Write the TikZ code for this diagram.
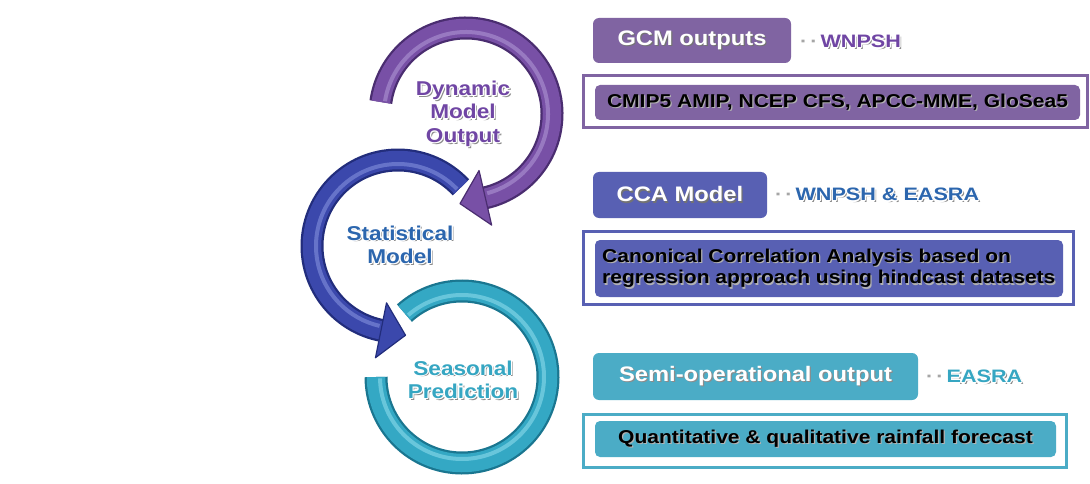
\documentclass[tikz,border=0pt]{standalone}
\usepackage{fontspec}
\setmainfont{Liberation Sans}[FakeStretch=1.13]
\newfontfamily\tagfont{Liberation Sans}[FakeStretch=1.2]
\usetikzlibrary{calc}
\definecolor{pur}{HTML}{8064A2}
\definecolor{purD}{HTML}{4A2D70}
\definecolor{purM}{HTML}{7850A6}
\definecolor{purL}{HTML}{B39BD8}
\definecolor{purT}{HTML}{7046A4}
\definecolor{blu}{HTML}{5860B3}
\definecolor{bluD}{HTML}{222D7C}
\definecolor{bluM}{HTML}{3B48AC}
\definecolor{bluL}{HTML}{8A98E2}
\definecolor{bluT}{HTML}{2C66AE}
\definecolor{tea}{HTML}{4BACC6}
\definecolor{teaD}{HTML}{1A7690}
\definecolor{teaM}{HTML}{34A8C4}
\definecolor{teaL}{HTML}{94DFEF}
\definecolor{teaT}{HTML}{36A6C2}
\newcommand\glowtxt[2]{%
  \makebox[0pt][l]{\kern1.8pt\raisebox{-1.8pt}{\textcolor{black!45}{#2}}}%
  \makebox[0pt][l]{\kern-1.2pt\textcolor{white}{#2}}%
  \makebox[0pt][l]{\kern1.2pt\textcolor{white}{#2}}%
  \makebox[0pt][l]{\raisebox{1.2pt}{\textcolor{white}{#2}}}%
  \makebox[0pt][l]{\raisebox{-1.2pt}{\textcolor{white}{#2}}}%
  \makebox[0pt][l]{\kern-.85pt\raisebox{.85pt}{\textcolor{white}{#2}}}%
  \makebox[0pt][l]{\kern.85pt\raisebox{.85pt}{\textcolor{white}{#2}}}%
  \makebox[0pt][l]{\kern-.85pt\raisebox{-.85pt}{\textcolor{white}{#2}}}%
  \makebox[0pt][l]{\kern.85pt\raisebox{-.85pt}{\textcolor{white}{#2}}}%
  \textcolor{#1}{#2}}
\newcommand\shadtxt[2]{%
  \makebox[0pt][l]{\kern1.2pt\raisebox{-1.2pt}{\textcolor{#1}{#2}}}#2}
\begin{document}
\begin{tikzpicture}[x=1pt,y=-1pt,
  tubeD/.style={line width=23pt},
  tubeM/.style={line width=18.5pt},
  tubeL/.style={line width=4pt,opacity=.55},
  headstyle/.style={line width=1.2pt,line join=round},
  ringlbl/.style={align=center,inner sep=0pt,font=\fontsize{20}{23.5}\selectfont\bfseries},
  titlebox/.style={rounded corners=6pt,inner sep=0pt,text=white,
    font=\fontsize{21}{25}\selectfont\bfseries},
  framebox/.style={line width=3pt,fill=white,inner sep=0pt},
  innerbox/.style={rounded corners=5pt,inner sep=0pt,text=black,
    font=\fontsize{18.6}{21.5}\selectfont\bfseries},
  tagtxt/.style={anchor=west,inner sep=0pt,font=\tagfont\fontsize{18}{22}\selectfont\bfseries}]
\useasboundingbox (0,0) rectangle (1090,484);
\fill[white] (0,0) rectangle (1090,484);

% ---- teal ring
\coordinate (tc) at (462,377);
\draw[tubeD,teaD] ($(tc)+(-132:86)$) arc[start angle=-132,end angle=180,radius=86];
\draw[tubeM,teaM] ($(tc)+(-132:86)$) arc[start angle=-132,end angle=180,radius=86];
\draw[tubeL,teaL] ($(tc)+(-131:82)$) arc[start angle=-131,end angle=179,radius=82];

% ---- blue ring
\coordinate (bc) at (398,246);
\draw[tubeD,bluD] ($(bc)+(-43:86)$) arc[start angle=-43,end angle=-258.6,radius=86];
\draw[tubeM,bluM] ($(bc)+(-43:86)$) arc[start angle=-43,end angle=-258.6,radius=86];
\draw[tubeL,bluL] ($(bc)+(-44:82)$) arc[start angle=-44,end angle=-257,radius=82];
\filldraw[headstyle,fill=bluM,draw=bluD]
  ($(bc)+(-258.6:58)$) -- ($(bc)+(-258.6:114)$) -- ($(bc)+(-258.6:86)+(-348.6:25)$) -- cycle;

% ---- purple ring
\coordinate (pc) at (466,114);
\draw[tubeD,purD] ($(pc)+(-172:86)$) arc[start angle=-172,end angle=77,radius=86];
\draw[tubeM,purM] ($(pc)+(-172:86)$) arc[start angle=-172,end angle=77,radius=86];
\draw[tubeL,purL] ($(pc)+(-171:82)$) arc[start angle=-171,end angle=75,radius=82];
\filldraw[headstyle,fill=purM,draw=purD]
  ($(pc)+(77:58)$) -- ($(pc)+(77:114)$) -- ($(pc)+(77:86)+(167:26)$) -- cycle;

% ---- ring labels
\node[ringlbl] (dmo) at (463,114) {\glowtxt{purT}{Dynamic}\\\glowtxt{purT}{Model}\\\glowtxt{purT}{Output}};
\node[ringlbl] (stm) at (400,245) {\glowtxt{bluT}{Statistical}\\\glowtxt{bluT}{Model}};
\node[ringlbl] (sep) at (463,380) {\glowtxt{teaT}{Seasonal}\\\glowtxt{teaT}{Prediction}};

% ---- GCM block
\node[titlebox,fill=pur,minimum width=198pt,minimum height=45pt] (gcm) at (692,40.5) {\shadtxt{black!55}{GCM outputs}};
\node[tagtxt] (gcmtag) at (800,42) {\textcolor{black!35}{·\,·\,}\glowtxt{purT}{WNPSH}};
\node[framebox,draw=pur,minimum width=504pt,minimum height=52pt] (gcmf) at (835,102) {};
\node[innerbox,fill=pur,minimum width=485pt,minimum height=35pt] (gcmi) at (837.5,102.5) {\shadtxt{black!30}{CMIP5 AMIP, NCEP CFS, APCC-MME, GloSea5}};

% ---- CCA block
\node[titlebox,fill=blu,minimum width=174pt,minimum height=46pt] (cca) at (680,195) {\shadtxt{black!55}{CCA Model}};
\node[tagtxt] (ccatag) at (775,195) {\textcolor{black!35}{·\,·\,}\glowtxt{bluT}{WNPSH \& EASRA}};
\node[framebox,draw=blu,minimum width=490pt,minimum height=73pt] (ccaf) at (828,267.5) {};
\node[innerbox,fill=blu,minimum width=468pt,minimum height=57pt] (ccai) at (829,268.5) {};
\node[innerbox,anchor=west,align=left] (ccat) at (602,269) {\shadtxt{black!30}{Canonical Correlation Analysis based on}\\\shadtxt{black!30}{regression approach using hindcast datasets}};

% ---- Semi-operational block
\node[titlebox,fill=tea,minimum width=325pt,minimum height=47pt] (semi) at (755.5,376.5) {\shadtxt{black!45}{Semi-operational output}};
\node[tagtxt] (semitag) at (926,377) {\textcolor{black!35}{·\,·\,}\glowtxt{teaT}{EASRA}};
\node[framebox,draw=tea,minimum width=483pt,minimum height=53pt] (semif) at (824.5,440.5) {};
\node[innerbox,fill=tea,minimum width=461pt,minimum height=36pt] (semii) at (825.5,439) {\shadtxt{black!30}{Quantitative \& qualitative rainfall forecast}};
\end{tikzpicture}
\end{document}
